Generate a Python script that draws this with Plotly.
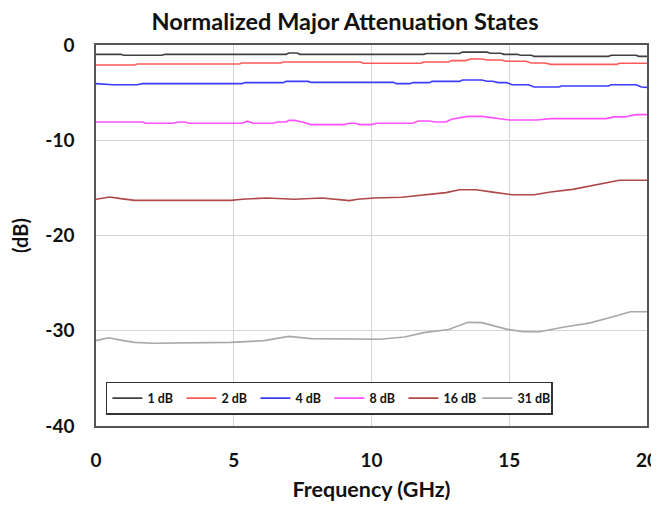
import plotly.graph_objects as go

# Frequency (GHz) sample points and series values (dB)
f1 = [0, 0.9, 1.0, 2.4, 2.5, 6.9, 7.0, 7.3, 7.4, 11.9, 12.0, 13.2, 13.3, 14.2, 14.3, 14.7, 14.8, 15.3, 15.4, 15.8, 15.9, 18.6, 18.7, 19.6, 19.7, 20]
v1 = [-0.98, -0.98, -1.08, -1.08, -0.98, -0.98, -0.84, -0.84, -0.98, -0.98, -0.9, -0.9, -0.75, -0.75, -0.86, -0.86, -0.98, -0.98, -1.08, -1.08, -1.19, -1.19, -1.08, -1.08, -1.19, -1.19]

f2 = [0, 1.4, 1.5, 5.2, 5.3, 6.7, 6.8, 9.6, 9.7, 11.8, 11.9, 12.8, 12.9, 13.4, 13.6, 14.0, 14.2, 14.7, 14.9, 15.6, 15.8, 16.3, 16.5, 18.9, 19.0, 20]
v2 = [-2.1, -2.1, -2.0, -2.0, -1.89, -1.89, -1.78, -1.78, -1.92, -1.92, -1.78, -1.78, -1.64, -1.64, -1.47, -1.47, -1.57, -1.57, -1.71, -1.71, -1.89, -1.89, -2.03, -2.03, -1.92, -1.92]

f4 = [0, 0.4, 0.6, 1.5, 1.7, 5.3, 5.4, 6.8, 6.9, 7.7, 7.8, 10.8, 10.9, 11.4, 11.5, 12.1, 12.2, 13.2, 13.3, 14.0, 14.2, 14.4, 14.6, 14.9, 15.1, 15.7, 15.9, 16.8, 16.9, 18.6, 18.7, 19.6, 19.8, 20]
v4 = [-4.06, -4.12, -4.17, -4.17, -4.06, -4.06, -3.95, -3.95, -3.82, -3.82, -3.92, -3.92, -4.06, -4.06, -3.95, -3.95, -3.82, -3.82, -3.67, -3.67, -3.8, -3.8, -3.95, -3.95, -4.17, -4.17, -4.41, -4.41, -4.3, -4.3, -4.17, -4.17, -4.41, -4.45]

f8 = [0, 1.7, 1.8, 2.8, 3.0, 3.2, 3.4, 5.3, 5.5, 5.7, 6.4, 6.6, 6.9, 7.0, 7.2, 7.5, 7.8, 9.0, 9.2, 9.4, 9.6, 10.0, 10.2, 11.5, 11.7, 12.1, 12.3, 12.7, 12.9, 13.3, 13.5, 14.0, 14.5, 15.0, 16.0, 16.5, 18.5, 18.8, 19.2, 19.6, 20]
v8 = [-8.08, -8.08, -8.22, -8.22, -8.08, -8.08, -8.22, -8.22, -8.0, -8.22, -8.22, -8.08, -8.08, -7.91, -7.91, -8.08, -8.36, -8.36, -8.22, -8.22, -8.36, -8.36, -8.22, -8.22, -7.98, -7.98, -8.08, -8.08, -7.8, -7.6, -7.49, -7.49, -7.7, -7.87, -7.87, -7.73, -7.73, -7.55, -7.55, -7.31, -7.31]

f16 = [0, 0.5, 0.9, 1.4, 4.9, 5.3, 6.2, 7.2, 8.2, 8.6, 9.2, 9.5, 10.1, 11.1, 11.9, 12.7, 13.2, 13.8, 14.4, 15.1, 15.9, 16.5, 17.3, 17.9, 18.6, 19.0, 20]
v16 = [-16.2, -15.96, -16.13, -16.31, -16.31, -16.2, -16.06, -16.2, -16.06, -16.2, -16.34, -16.2, -16.06, -15.99, -15.78, -15.5, -15.2, -15.2, -15.45, -15.72, -15.72, -15.44, -15.16, -14.8, -14.45, -14.2, -14.2]

f31 = [0, 0.45, 1.0, 1.4, 2.1, 4.9, 6.1, 7.0, 7.8, 9.2, 10.3, 11.2, 11.9, 12.8, 13.5, 14.0, 14.9, 15.5, 16.1, 17.0, 17.9, 18.8, 19.4, 20]
v31 = [-31.04, -30.73, -31.04, -31.22, -31.32, -31.22, -31.04, -30.59, -30.83, -30.9, -30.9, -30.66, -30.2, -29.87, -29.12, -29.15, -29.83, -30.1, -30.1, -29.6, -29.2, -28.5, -28.0, -28.0]

names = ["1 dB", "2 dB", "4 dB", "8 dB", "16 dB", "31 dB"]
colors = ["#404040", "#ff5a5a", "#3c3cff", "#ff50ff", "#b04848", "#a8a8a8"]
xs = [f1, f2, f4, f8, f16, f31]
ys = [v1, v2, v4, v8, v16, v31]

x_ticks = [0, 5, 10, 15, 20]
y_ticks = [0, -10, -20, -30, -40]

FONT = "Lato"

fig = go.Figure()
for n, c, x, y in zip(names, colors, xs, ys):
    fig.add_trace(go.Scatter(x=x, y=y, mode="lines", name=f"<b>{n}</b>",
                             line=dict(color=c, width=1.6)))

# the page body adds an 8px margin all round, so the figure is sized to fit inside
fig.update_layout(
    width=651, height=494,
    margin=dict(l=88, r=12, t=37, b=76, autoexpand=False),
    paper_bgcolor="white", plot_bgcolor="white",
    title=dict(text="<b>Normalized Major Attenuation States</b>",
               x=0.5177, xanchor="center", y=0.972, yanchor="middle",
               font=dict(family=FONT, size=23.5, color="#111111"),
               automargin=False),
    font=dict(family=FONT, color="#111111"),
    showlegend=True,
    legend=dict(orientation="h", x=0.018, y=0.1155, xanchor="left", yanchor="top",
                bgcolor="white", bordercolor="#333333", borderwidth=1.5,
                font=dict(family=FONT, size=12.5, color="#111111"),
                itemwidth=30, entrywidth=29, entrywidthmode="pixels",
                tracegroupgap=0),
)

fig.update_xaxes(
    range=[0, 20], tickvals=x_ticks, ticktext=[f"<b>{v}</b>" for v in x_ticks],
    showgrid=True, gridcolor="#d4d4d4", gridwidth=1.2,
    showline=True, linecolor="#555555", linewidth=1.5, mirror=True,
    zeroline=False, ticks="", ticklabelstandoff=16, automargin=False,
    tickfont=dict(family=FONT, size=19, color="#111111"),
    title=dict(text="<b>Frequency (GHz)</b>", standoff=16,
               font=dict(family=FONT, size=21.5, color="#111111")),
)
fig.update_yaxes(
    range=[-40, 0], tickvals=y_ticks, ticktext=[f"<b>{v}</b>" for v in y_ticks],
    showgrid=True, gridcolor="#d4d4d4", gridwidth=1.2,
    showline=True, linecolor="#555555", linewidth=1.5, mirror=True,
    zeroline=False, ticks="", ticklabelstandoff=16, automargin=False,
    tickfont=dict(family=FONT, size=19, color="#111111"),
    title=dict(text="<b>(dB)</b>", standoff=18,
               font=dict(family=FONT, size=20, color="#111111")),
)

fig.write_html("out.html")
